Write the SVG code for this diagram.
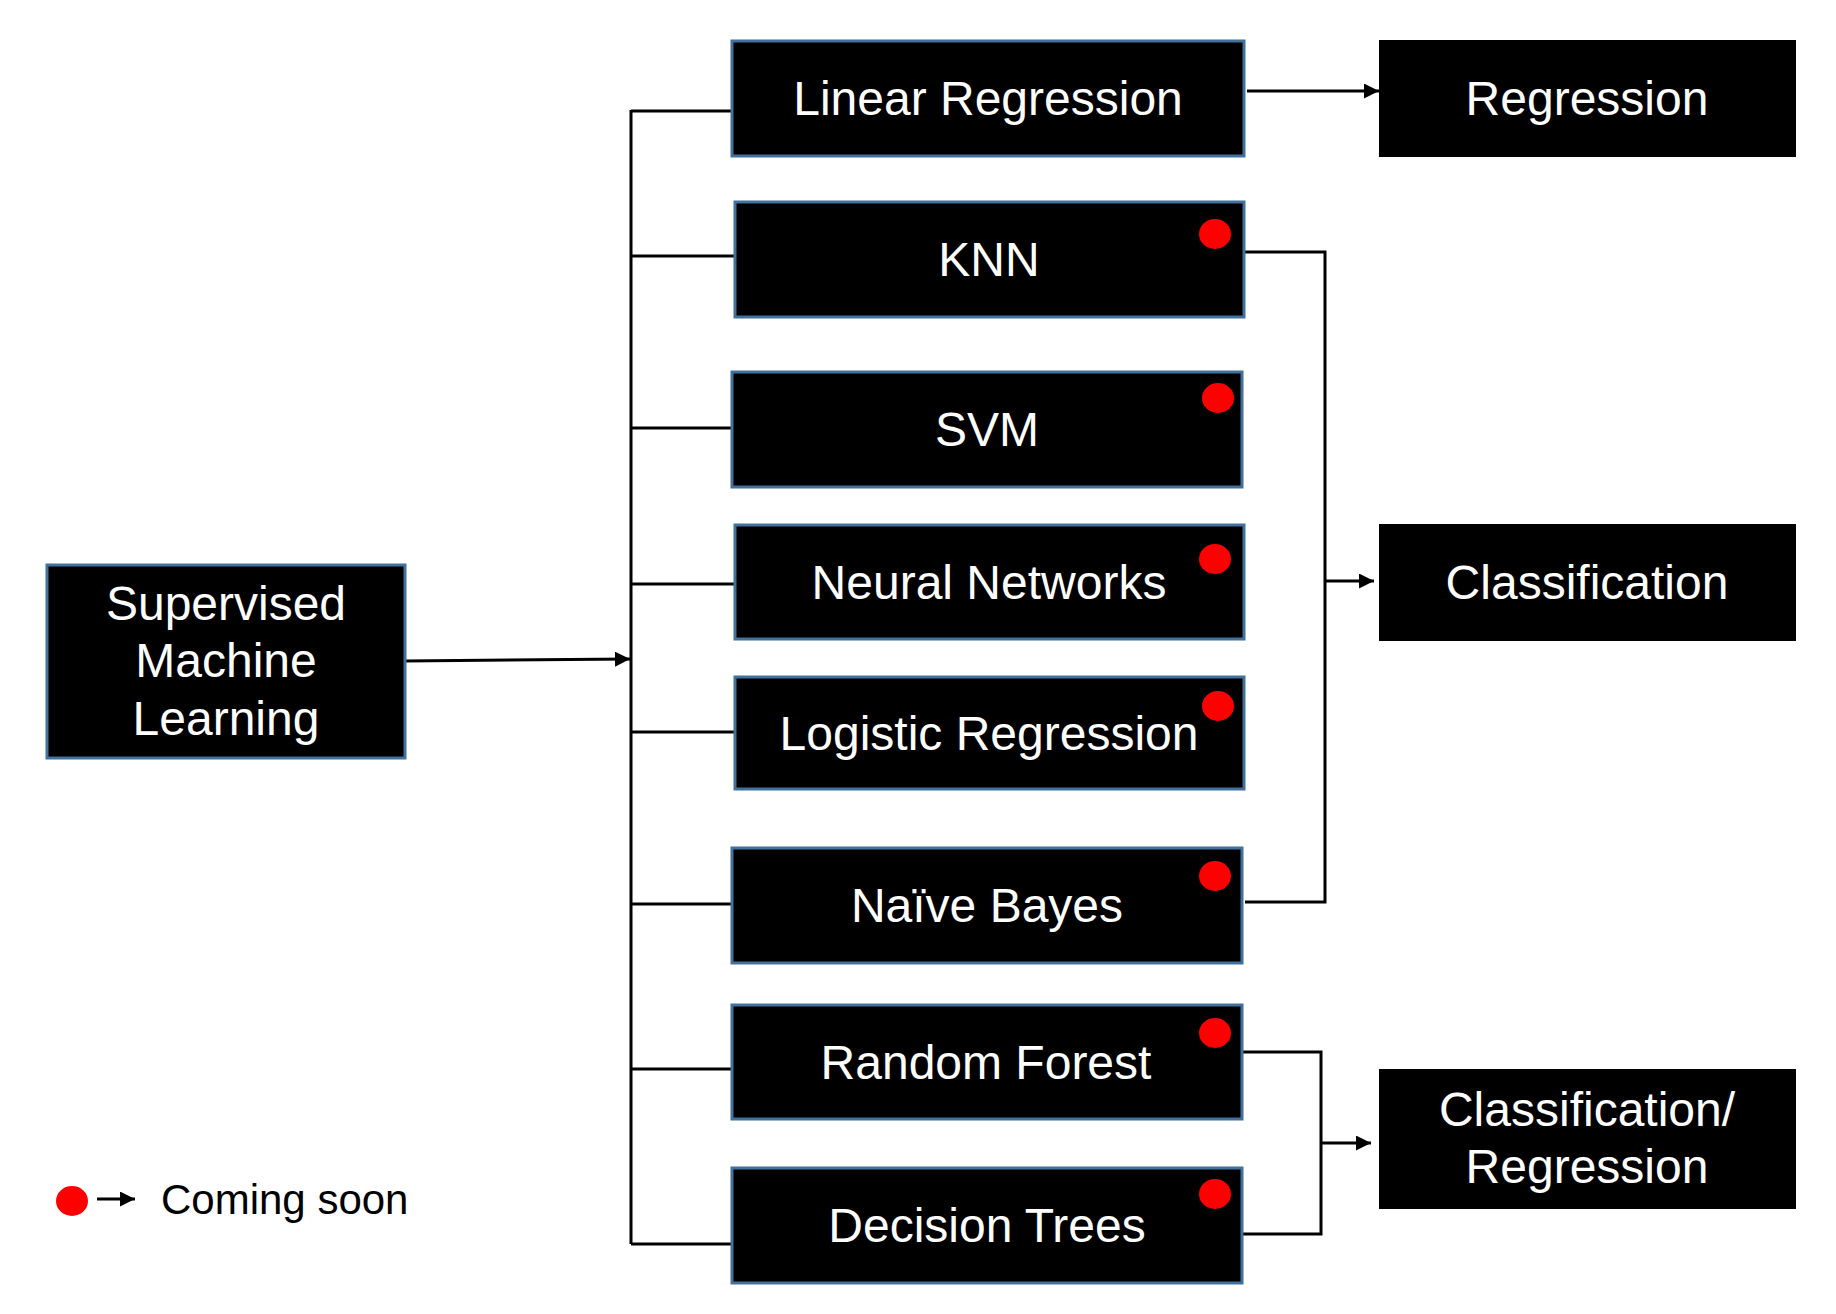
<svg xmlns="http://www.w3.org/2000/svg" width="1836" height="1314" viewBox="0 0 1836 1314">
<style>
.box{fill:#000;stroke:#41719C;stroke-width:3}
.out{fill:#000}
.t{font-family:"Liberation Sans",Arial,sans-serif;font-size:48px;fill:#fff;text-anchor:middle}
.dot{fill:#FF0000}
.ln{fill:none;stroke:#000;stroke-width:3}
.legend{font-family:"Liberation Sans",Arial,sans-serif;font-size:42px;fill:#000}
</style>
<defs>
<marker id="ah" viewBox="0 0 10 10" refX="10" refY="5" markerWidth="15" markerHeight="15" markerUnits="userSpaceOnUse" orient="auto">
<path d="M0,0 L10,5 L0,10 z" fill="#000"/>
</marker>
</defs>
<rect width="1836" height="1314" fill="#fff"/>

<g id="connectors">
<path class="ln" d="M631,110 V1244"/>
<path class="ln" d="M631,111 H732"/>
<path class="ln" d="M631,256 H735"/>
<path class="ln" d="M631,428 H732"/>
<path class="ln" d="M631,584 H735"/>
<path class="ln" d="M631,732 H735"/>
<path class="ln" d="M631,904 H732"/>
<path class="ln" d="M631,1069 H732"/>
<path class="ln" d="M631,1244 H732"/>
<path class="ln" d="M405,661 L630,659" marker-end="url(#ah)"/>
<path class="ln" d="M1247,91 H1379" marker-end="url(#ah)"/>
<path class="ln" d="M1245,252 H1325 V902 H1245"/>
<path class="ln" d="M1325,581 H1374" marker-end="url(#ah)"/>
<path class="ln" d="M1242,1052 H1321 V1234 H1243"/>
<path class="ln" d="M1321,1143 H1371" marker-end="url(#ah)"/>
</g>

<g id="supervised">
<rect class="box" x="47" y="565" width="358" height="193"/>
<text class="t" x="226" y="620">Supervised</text>
<text class="t" x="226" y="677">Machine</text>
<text class="t" x="226" y="735">Learning</text>
</g>

<g id="linear-regression">
<rect class="box" x="732" y="41" width="512" height="115"/>
<text class="t" x="988" y="115">Linear Regression</text>
</g>

<g id="knn">
<rect class="box" x="735" y="202" width="509" height="115"/>
<text class="t" x="989" y="276">KNN</text>
<ellipse class="dot" cx="1215" cy="234" rx="16" ry="15"/>
</g>

<g id="svm">
<rect class="box" x="732" y="372" width="510" height="115"/>
<text class="t" x="987" y="446">SVM</text>
<ellipse class="dot" cx="1218" cy="398" rx="16" ry="15"/>
</g>

<g id="neural-networks">
<rect class="box" x="735" y="525" width="509" height="114"/>
<text class="t" x="989" y="599">Neural Networks</text>
<ellipse class="dot" cx="1215" cy="559" rx="16" ry="15"/>
</g>

<g id="logistic-regression">
<rect class="box" x="735" y="677" width="509" height="112"/>
<text class="t" x="989" y="750">Logistic Regression</text>
<ellipse class="dot" cx="1218" cy="706" rx="16" ry="15"/>
</g>

<g id="naive-bayes">
<rect class="box" x="732" y="848" width="510" height="115"/>
<text class="t" x="987" y="922">Naïve Bayes</text>
<ellipse class="dot" cx="1215" cy="876" rx="16" ry="15"/>
</g>

<g id="random-forest">
<rect class="box" x="732" y="1005" width="510" height="114"/>
<text class="t" x="986" y="1079">Random Forest</text>
<ellipse class="dot" cx="1215" cy="1033" rx="16" ry="15"/>
</g>

<g id="decision-trees">
<rect class="box" x="732" y="1168" width="510" height="115"/>
<text class="t" x="987" y="1242">Decision Trees</text>
<ellipse class="dot" cx="1215" cy="1194" rx="16" ry="15"/>
</g>

<g id="regression">
<rect class="out" x="1379" y="40" width="417" height="117"/>
<text class="t" x="1587" y="115">Regression</text>
</g>

<g id="classification">
<rect class="out" x="1379" y="524" width="417" height="117"/>
<text class="t" x="1587" y="599">Classification</text>
</g>

<g id="classification-regression">
<rect class="out" x="1379" y="1069" width="417" height="140"/>
<text class="t" x="1587" y="1126">Classification/</text>
<text class="t" x="1587" y="1183">Regression</text>
</g>

<g id="legend">
<ellipse class="dot" cx="72" cy="1201" rx="16" ry="15"/>
<path class="ln" d="M97,1199 H135" marker-end="url(#ah)"/>
<text class="legend" x="161" y="1214">Coming soon</text>
</g>
</svg>
